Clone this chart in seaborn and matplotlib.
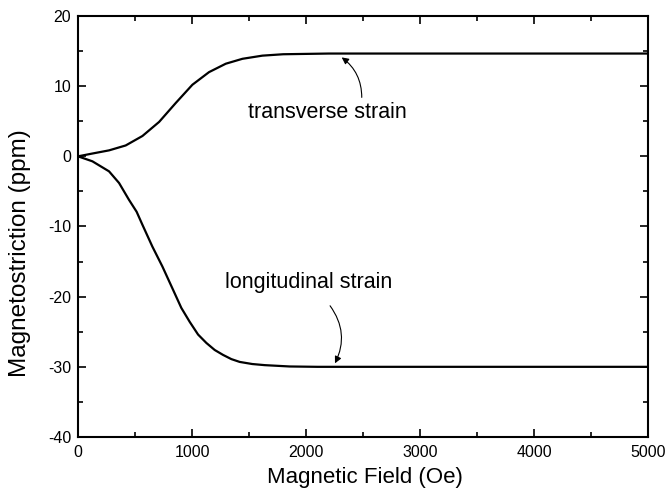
import numpy as np
import pandas as pd
import matplotlib
matplotlib.use("Agg")
import matplotlib.pyplot as plt
from matplotlib.ticker import MultipleLocator
import seaborn as sns

# Data
field_trans = [0, 126, 272, 418, 565, 711, 857, 1003, 1149, 1296, 1442, 1617, 1800, 2000, 2200, 2500, 3000, 4000, 5000]
strain_trans = [0, 0.4, 0.85, 1.55, 2.9, 4.9, 7.6, 10.2, 12.0, 13.2, 13.9, 14.35, 14.55, 14.6, 14.65, 14.65, 14.65, 14.65, 14.65]

field_long = [0, 126, 272, 360, 447, 514, 565, 652, 740, 833, 906, 980, 1053, 1126, 1199, 1272, 1345, 1418, 1528, 1638, 1857, 2100, 2500, 3000, 4000, 5000]
strain_long = [0, -0.71, -2.14, -3.8, -6.2, -7.9, -9.76, -12.86, -15.7, -19.0, -21.6, -23.6, -25.4, -26.6, -27.6, -28.3, -28.9, -29.3, -29.6, -29.76, -29.95, -30.0, -30.0, -30.0, -30.0, -30.0]

x_ticks = [0, 1000, 2000, 3000, 4000, 5000]
y_ticks = [-40, -30, -20, -10, 0, 10, 20]

df = pd.concat([
    pd.DataFrame({"field": field_trans, "strain": strain_trans, "kind": "transverse strain"}),
    pd.DataFrame({"field": field_long, "strain": strain_long, "kind": "longitudinal strain"}),
])

sns.set_style("ticks")
plt.rcParams["font.family"] = ["Liberation Sans", "DejaVu Sans"]
plt.rcParams["axes.unicode_minus"] = False
plt.rcParams["text.color"] = "black"
plt.rcParams["axes.labelcolor"] = "black"
plt.rcParams["xtick.color"] = "black"
plt.rcParams["ytick.color"] = "black"

fig = plt.figure(figsize=(6.67, 4.94), dpi=100)
ax = fig.add_axes([0.117, 0.1154, 0.8545, 0.8522])

sns.lineplot(data=df, x="field", y="strain", units="kind", estimator=None,
             color="black", linewidth=1.6, ax=ax, legend=False)
for ln in ax.get_lines():
    ln.set_solid_joinstyle("round")

ax.set_xlim(0, 5000)
ax.set_ylim(-40, 20)
ax.set_xticks(x_ticks)
ax.set_yticks(y_ticks)
ax.xaxis.set_minor_locator(MultipleLocator(500))
ax.yaxis.set_minor_locator(MultipleLocator(5))
ax.tick_params(which="both", direction="in", top=True, right=True, labelsize=11.5, width=1.2)
ax.tick_params(which="major", length=6)
ax.tick_params(which="minor", length=3.5)
ax.tick_params(axis="x", pad=6)
ax.tick_params(axis="y", pad=5)
for s in ax.spines.values():
    s.set_visible(True)
    s.set_linewidth(1.5)
    s.set_color("black")

ax.set_xlabel("Magnetic Field (Oe)", fontsize=16)
ax.set_ylabel("Magnetostriction (ppm)", fontsize=17.5)
ax.xaxis.set_label_coords(0.503, -0.072)
ax.yaxis.set_label_coords(-0.083, 0.436)

ax.text(2186, 6.2, "transverse strain", fontsize=15.5, ha="center", va="center")
ax.text(2024, -18.0, "longitudinal strain", fontsize=15.5, ha="center", va="center")
ax.annotate("", xy=(2313, 14.1), xytext=(2489, 8.4),
            arrowprops=dict(arrowstyle="-|>", color="black", lw=0.8,
                            connectionstyle="arc3,rad=0.25", shrinkA=0, shrinkB=0,
                            mutation_scale=10))
ax.annotate("", xy=(2254, -29.5), xytext=(2211, -21.3),
            arrowprops=dict(arrowstyle="-|>", color="black", lw=0.8,
                            connectionstyle="arc3,rad=-0.3", shrinkA=0, shrinkB=0,
                            mutation_scale=10))

fig.savefig("out.png", dpi=100)
